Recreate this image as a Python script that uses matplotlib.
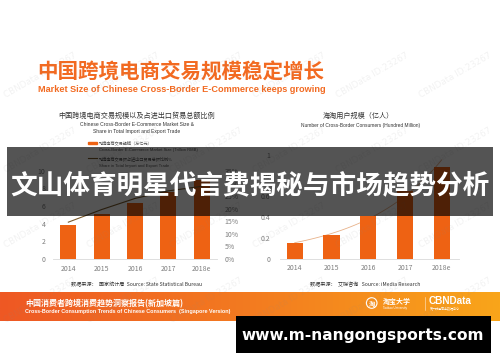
import numpy as np
import matplotlib
matplotlib.use("Agg")
import matplotlib.pyplot as plt
from matplotlib.patches import Rectangle, Circle
from matplotlib.colors import LinearSegmentedColormap

plt.rcParams['font.family'] = ['Noto Sans CJK SC', 'DejaVu Sans']

# ---- data ----
years = ["2014", "2015", "2016", "2017", "2018e"]
market_size = [3.9, 5.1, 6.3, 7.6, 9.0]          # trillion RMB
trade_share = [14.6, 19.6, 24.0, 27.0, 28.8]     # % of total import/export trade
consumers = [0.15, 0.23, 0.41, 0.65, 0.88]       # hundred million people
left_yticks = [0, 2, 4, 6, 8, 10]
share_ticks = [0, 5, 10, 15, 20, 25, 30, 35]
share_labels = [f"{v}%" for v in share_ticks]
right_yticks = [0, 0.2, 0.4, 0.6, 0.8, 1.0]
right_ylabels = ["0", "0.2", "0.4", "0.6", "0.8", "1"]

ORANGE = "#ee6213"
TITLE_ORANGE = "#f26a21"
LINE_BROWN = "#7a5a2c"
TREND = "#e8b28a"
TICK_GRAY = "#7f7f7f"

W, H = 500, 362
fig = plt.figure(figsize=(W / 100, H / 100), dpi=100)
fig.patch.set_facecolor("white")


def px_axes(x0, y_top, x1, y_bottom, z):
    ax = fig.add_axes([x0 / W, 1 - y_bottom / H, (x1 - x0) / W, (y_bottom - y_top) / H])
    ax.set_zorder(z)
    ax.set_facecolor("none")
    return ax


# ---- background layer: titles, sources, footer band ----
bg = px_axes(0, 0, W, H, 0)
cmap = LinearSegmentedColormap.from_list("band", ["#ee5824", "#f37b20", "#f9a51a"])
bg.imshow(np.linspace(0, 1, 256)[None, :], extent=(0, W, 321, 292), cmap=cmap,
          aspect="auto", zorder=1)
bg.set_xlim(0, W)
bg.set_ylim(H, 0)
bg.axis("off")

bg.text(37, 72, "中国跨境电商交易规模稳定增长", fontsize=14.8, fontweight="bold",
        color=TITLE_ORANGE, va="center", ha="left")
bg.text(37.5, 90, "Market Size of Chinese Cross-Border E-Commerce keeps growing",
        fontsize=6.6, fontweight="bold", color=TITLE_ORANGE, va="center", ha="left",
        family=["Liberation Sans", "DejaVu Sans"])

bg.text(137, 116, "中国跨境电商交易规模以及占进出口贸易总额比例", fontsize=5.1,
        color="#333333", ha="center", va="center")
bg.text(137, 124.7, "Chinese Cross-Border E-Commerce Market Size &", fontsize=3.6,
        color="#333333", ha="center", va="center", family=["Liberation Sans"])
bg.text(137, 132, "Share in Total Import and Export Trade", fontsize=3.6,
        color="#333333", ha="center", va="center", family=["Liberation Sans"])

bg.text(358, 115.7, "海淘用户规模（亿人）", fontsize=5.1, color="#333333",
        ha="center", va="center")
bg.text(361, 125, "Number of Cross-Border Consumers (Hundred Million)", fontsize=3.5,
        color="#333333", ha="center", va="center", family=["Liberation Sans"])

# legend of the left chart
bg.add_patch(Rectangle((88, 141.6), 9, 2.2, color=ORANGE, zorder=2))
bg.text(99, 142.7, "跨境电商交易规模（万亿元）", fontsize=3.0, color="#555555", va="center")
bg.text(99, 150, "Cross-Border E-Commerce Market Size (Trillion RMB)", fontsize=3.0,
        color="#555555", va="center", family=["Liberation Sans"])
bg.plot([88, 97], [158.3, 158.3], color=LINE_BROWN, lw=0.8, zorder=2)
bg.text(99, 158.3, "跨境电商交易额占进出口贸易总额比例%", fontsize=3.0, color="#555555",
        va="center")
bg.text(99, 166, "Share in Total Import and Export Trade", fontsize=3.0, color="#555555",
        va="center", family=["Liberation Sans"])

bg.text(71, 285, "数据来源：  国家统计局  Source: State Statistical Bureau", fontsize=3.7,
        color="#333333", va="center")
bg.text(310, 285, "数据来源：  艾媒咨询   Source: iMedia Research", fontsize=3.7,
        color="#333333", va="center")

bg.text(25, 303.5, "中国消费者跨境消费趋势洞察报告(新加坡篇)", fontsize=5.8,
        fontweight="bold", color="white", va="center", zorder=3)
bg.text(25, 311.7, "Cross-Border Consumption Trends of Chinese Consumers  (Singapore Version)",
        fontsize=3.9, fontweight="bold", color="white", va="center", zorder=3,
        family=["Liberation Sans"])

bg.add_patch(Circle((371.7, 303), 5.3, fill=False, ec="white", lw=0.8, zorder=3))
bg.text(371.7, 303.2, "淘", fontsize=4.5, color="white", ha="center", va="center",
        fontweight="bold", zorder=3)
bg.text(383, 301, "淘宝大学", fontsize=5.0, color="white", va="center",
        fontweight="bold", zorder=3)
bg.text(383, 307.5, "Taobao University", fontsize=2.2, color="white", va="center", zorder=3,
        family=["Liberation Sans"])
bg.plot([425, 425], [297, 310], color="white", lw=0.4, alpha=0.8, zorder=3)
bg.text(429, 301.5, "CBNData", fontsize=7.2, color="white", va="center",
        fontweight="bold", zorder=3, family=["Liberation Sans"])
bg.text(430, 308.5, "第一财经商业数据中心", fontsize=2.2, color="white", va="center", zorder=3)


def style_axis(ax):
    for side in ("top", "right", "left"):
        ax.spines[side].set_visible(False)
    ax.spines["bottom"].set_color("#d9d9d9")
    ax.spines["bottom"].set_linewidth(0.6)


# ---- left chart: market size bars + share line ----
ax1 = px_axes(53, 170.7, 217, 259, 1)
x = np.arange(len(years))
ax1.bar(x, market_size, width=0.48, color=ORANGE, zorder=2)
ax1.set_xlim(-0.46, 4.46)
ax1.set_ylim(0, 10)
ax1.set_yticks(left_yticks)
ax1.set_xticks(x)
ax1.set_xticklabels(years)
style_axis(ax1)
ax1.tick_params(axis="both", length=0, labelsize=5, colors=TICK_GRAY)
ax1.tick_params(axis="y", pad=5.5)
ax1.tick_params(axis="x", pad=4.2)

ax1b = ax1.twinx()
ax1b.set_zorder(2)
ax1b.set_facecolor("none")
ax1b.plot(x, trade_share, color=LINE_BROWN, lw=0.8)
ax1b.set_ylim(0, 35)
ax1b.set_yticks(share_ticks)
ax1b.set_yticklabels(share_labels)
for side in ("top", "right", "left", "bottom"):
    ax1b.spines[side].set_visible(False)
ax1b.tick_params(axis="y", length=0, labelsize=5, colors=TICK_GRAY, pad=5.5)

# ---- right chart: cross-border consumers with exponential trend ----
ax2 = px_axes(280, 155, 459, 258.5, 1)
ax2.bar(x, consumers, width=0.44, color=ORANGE, zorder=2)
coef = np.polyfit(x, np.log(consumers), 1)
xs = np.linspace(0, 4, 80)
ax2.plot(xs, np.exp(np.polyval(coef, xs)), color=TREND, lw=0.6, zorder=1)
ax2.set_xlim(-0.4, 4.47)
ax2.set_ylim(0, 1)
ax2.set_yticks(right_yticks)
ax2.set_yticklabels(right_ylabels)
ax2.set_xticks(x)
ax2.set_xticklabels(years)
style_axis(ax2)
ax2.tick_params(axis="both", length=0, labelsize=5, colors=TICK_GRAY)
ax2.tick_params(axis="y", pad=7)
ax2.tick_params(axis="x", pad=4.2)

# ---- overlay layer: watermarks, headline banner, site label ----
ov = px_axes(0, 0, W, H, 5)
ov.set_xlim(0, W)
ov.set_ylim(H, 0)
ov.axis("off")

for yc in (75, 150, 225, 300):
    for i in range(6):
        ov.text(40 + 83 * i, yc, "CBNData ID:23267", fontsize=6.3, color="#8a8a8a",
                alpha=0.11, rotation=30, ha="center", va="center", zorder=1,
                family=["DejaVu Sans"])

ov.add_patch(Rectangle((7, 147), 486, 69, color="black", alpha=0.67, lw=0, zorder=2))
ov.text(250, 185.5, "文山体育明星代言费揭秘与市场趋势分析", fontsize=19.2,
        fontweight="bold", color="white", ha="center", va="center", zorder=3)

ov.add_patch(Rectangle((236, 316), 255, 37, color="black", lw=0, zorder=2))
ov.text(363, 335.5, "www.m-nangongsports.com", fontsize=11.1, fontweight="bold",
        color="white", ha="center", va="center", zorder=3, family=["DejaVu Sans"])

fig.savefig("out.png", dpi=100, facecolor="white")
